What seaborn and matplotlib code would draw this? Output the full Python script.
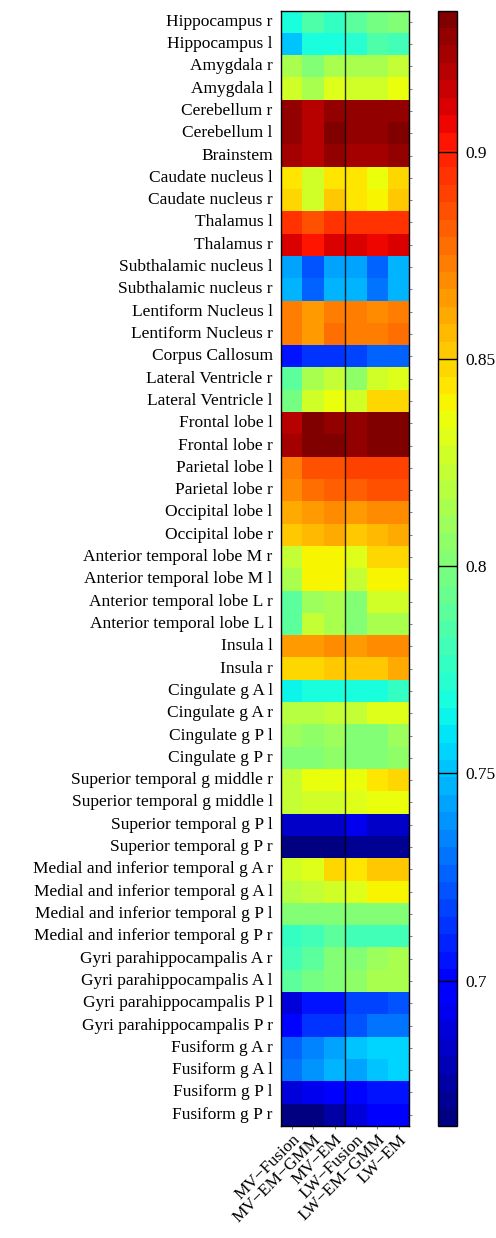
import matplotlib
matplotlib.use('Agg')
import matplotlib.pyplot as plt
import pandas as pd
import seaborn as sns

regions = ['Hippocampus r', 'Hippocampus l', 'Amygdala r', 'Amygdala l',
           'Cerebellum r', 'Cerebellum l', 'Brainstem',
           'Caudate nucleus l', 'Caudate nucleus r', 'Thalamus l', 'Thalamus r',
           'Subthalamic nucleus l', 'Subthalamic nucleus r',
           'Lentiform Nucleus l', 'Lentiform Nucleus r', 'Corpus Callosum',
           'Lateral Ventricle r', 'Lateral Ventricle l',
           'Frontal lobe l', 'Frontal lobe r', 'Parietal lobe l', 'Parietal lobe r',
           'Occipital lobe l', 'Occipital lobe r',
           'Anterior temporal lobe M r', 'Anterior temporal lobe M l',
           'Anterior temporal lobe L r', 'Anterior temporal lobe L l',
           'Insula l', 'Insula r',
           'Cingulate g A l', 'Cingulate g A r', 'Cingulate g P l', 'Cingulate g P r',
           'Superior temporal g middle r', 'Superior temporal g middle l',
           'Superior temporal g P l', 'Superior temporal g P r',
           'Medial and inferior temporal g A r', 'Medial and inferior temporal g A l',
           'Medial and inferior temporal g P l', 'Medial and inferior temporal g P r',
           'Gyri parahippocampalis A r', 'Gyri parahippocampalis A l',
           'Gyri parahippocampalis P l', 'Gyri parahippocampalis P r',
           'Fusiform g A r', 'Fusiform g A l', 'Fusiform g P l', 'Fusiform g P r']

methods = ['MV\u2212Fusion', 'MV\u2212EM\u2212GMM', 'MV\u2212EM',
           'LW\u2212Fusion', 'LW\u2212EM\u2212GMM', 'LW\u2212EM']

mv_fusion = [0.770, 0.752, 0.815, 0.825, 0.926, 0.926, 0.924, 0.845, 0.847, 0.894,
             0.911, 0.742, 0.746, 0.875, 0.874, 0.707, 0.787, 0.796, 0.919, 0.922,
             0.872, 0.867, 0.862, 0.852, 0.821, 0.813, 0.789, 0.789, 0.864, 0.847,
             0.762, 0.820, 0.810, 0.803, 0.821, 0.824, 0.685, 0.669, 0.825, 0.820,
             0.800, 0.778, 0.782, 0.787, 0.688, 0.702, 0.725, 0.729, 0.688, 0.669]
mv_em_gmm = [0.784, 0.766, 0.803, 0.815, 0.919, 0.919, 0.919, 0.825, 0.825, 0.887,
             0.901, 0.723, 0.725, 0.864, 0.864, 0.715, 0.815, 0.828, 0.930, 0.930,
             0.887, 0.877, 0.865, 0.857, 0.838, 0.838, 0.812, 0.821, 0.864, 0.847,
             0.766, 0.820, 0.806, 0.803, 0.836, 0.826, 0.682, 0.669, 0.833, 0.824,
             0.803, 0.782, 0.789, 0.796, 0.706, 0.712, 0.736, 0.739, 0.692, 0.669]
mv_em = [0.778, 0.766, 0.815, 0.830, 0.928, 0.930, 0.926, 0.845, 0.850, 0.894,
         0.911, 0.742, 0.749, 0.875, 0.878, 0.715, 0.824, 0.835, 0.928, 0.930,
         0.887, 0.880, 0.870, 0.860, 0.838, 0.838, 0.815, 0.815, 0.868, 0.852,
         0.766, 0.821, 0.808, 0.806, 0.836, 0.825, 0.682, 0.669, 0.847, 0.825,
         0.803, 0.787, 0.803, 0.803, 0.706, 0.715, 0.741, 0.746, 0.696, 0.675]
lw_fusion = [0.790, 0.773, 0.815, 0.825, 0.926, 0.929, 0.922, 0.844, 0.845, 0.895,
             0.910, 0.741, 0.749, 0.875, 0.875, 0.719, 0.806, 0.825, 0.929, 0.929,
             0.888, 0.880, 0.864, 0.853, 0.830, 0.821, 0.803, 0.800, 0.865, 0.854,
             0.769, 0.824, 0.803, 0.803, 0.834, 0.830, 0.691, 0.672, 0.844, 0.833,
             0.801, 0.782, 0.800, 0.806, 0.719, 0.723, 0.753, 0.742, 0.702, 0.688]
lw_em_gmm = [0.797, 0.786, 0.815, 0.825, 0.929, 0.929, 0.922, 0.836, 0.840, 0.893,
             0.907, 0.725, 0.732, 0.867, 0.875, 0.727, 0.826, 0.848, 0.933, 0.933,
             0.888, 0.884, 0.868, 0.857, 0.847, 0.838, 0.825, 0.813, 0.870, 0.854,
             0.769, 0.830, 0.803, 0.803, 0.842, 0.835, 0.685, 0.671, 0.852, 0.840,
             0.803, 0.782, 0.810, 0.813, 0.719, 0.729, 0.756, 0.751, 0.704, 0.696]
lw_em = [0.803, 0.782, 0.824, 0.834, 0.929, 0.933, 0.926, 0.847, 0.850, 0.896,
         0.910, 0.746, 0.749, 0.875, 0.877, 0.727, 0.833, 0.848, 0.933, 0.933,
         0.888, 0.884, 0.869, 0.859, 0.847, 0.838, 0.825, 0.813, 0.868, 0.862,
         0.778, 0.830, 0.810, 0.806, 0.848, 0.835, 0.685, 0.672, 0.852, 0.840,
         0.803, 0.782, 0.815, 0.815, 0.723, 0.729, 0.754, 0.756, 0.704, 0.696]

df = pd.DataFrame(dict(zip(methods, [mv_fusion, mv_em_gmm, mv_em,
                                     lw_fusion, lw_em_gmm, lw_em])), index=regions)

plt.rcParams['font.family'] = ['Liberation Serif', 'DejaVu Serif']
plt.rcParams['font.size'] = 12.5

fig = plt.figure(figsize=(4.96, 12.38), dpi=100)
ax = fig.add_axes([0.5665, 0.0905, 0.259, 0.901])
cax = fig.add_axes([0.8825, 0.0905, 0.0383, 0.901])

jet64 = plt.get_cmap('jet', 64)
sns.heatmap(df, cmap=jet64, vmin=0.665, vmax=0.934, ax=ax, cbar_ax=cax,
            xticklabels=True, yticklabels=True)

# black frame round the map, split line between MV and LW
for s in ax.spines.values():
    s.set_visible(True)
    s.set_linewidth(1.0)
    s.set_color('black')
ax.axvline(3, color='black', lw=1.0, alpha=0.8)

ax.tick_params(axis='y', left=False, right=True, direction='out', length=2,
               width=0.6, color='0.4', labelleft=True, labelright=False, pad=4)
ax.tick_params(axis='x', bottom=True, direction='out', length=2, width=0.6,
               color='0.4', pad=2)
ax.set_yticklabels(regions, rotation=0, fontsize=12.5)
ax.set_xticklabels(methods, rotation=45, ha='right', va='top',
                   rotation_mode='anchor', fontsize=12.5)
ax.set_xlabel('')
ax.set_ylabel('')

cb = ax.collections[0].colorbar
cb.outline.set_linewidth(1.0)
cb.outline.set_edgecolor('black')
cb.set_ticks([0.7, 0.75, 0.8, 0.85, 0.9])
cb.set_ticklabels(['0.7', '0.75', '0.8', '0.85', '0.9'])
cax.tick_params(direction='in', length=13.7, width=1.0, color='black',
                labelsize=12.5, pad=6)

fig.savefig('out.png', dpi=100)
